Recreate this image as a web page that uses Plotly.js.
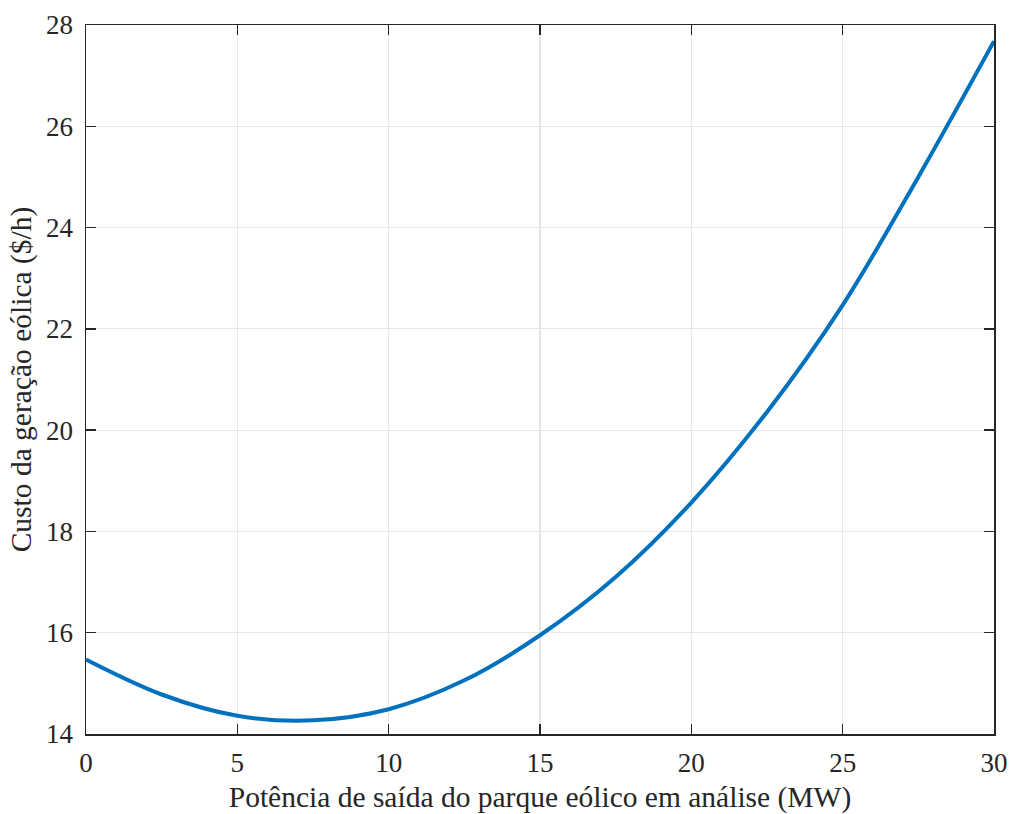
<!DOCTYPE html>
<html>
<head>
<meta charset="utf-8">
<script src="https://cdn.plot.ly/plotly-3.0.1.min.js"></script>
<style>html,body{margin:0;padding:0;background:#fff;}#chart{width:1009px;height:814px;}</style>
</head>
<body>
<div id="chart"></div>
<script>
const potencia = [0, 2.5, 5, 7.5, 10, 12.5, 15, 17.5, 20, 22.5, 25, 27.5, 30];
const custo = [15.47, 14.78, 14.36, 14.27, 14.49, 15.06, 15.95, 17.10, 18.57, 20.36, 22.47, 25.0, 27.68];
const xTicks = [0, 5, 10, 15, 20, 25, 30];
const yTicks = [14, 16, 18, 20, 22, 24, 26, 28];

const tickFont = {family: 'Liberation Serif, Times New Roman, serif', size: 27, color: '#262626'};
const titleFont = {family: 'Liberation Serif, Times New Roman, serif', size: 29.5, color: '#262626'};
const axisCommon = {
  showline: true, linecolor: '#262626', linewidth: 1.5, mirror: 'ticks',
  ticks: 'inside', ticklen: 10, tickwidth: 1.5, tickcolor: '#262626',
  showgrid: true, gridcolor: '#e6e6e6', gridwidth: 1.2, zeroline: false,
  tickfont: tickFont
};
Plotly.newPlot('chart', [{
  x: potencia, y: custo, type: 'scatter', mode: 'lines',
  line: {color: '#0072BD', width: 4, shape: 'spline', smoothing: 1}
}], {
  width: 1009, height: 814,
  margin: {l: 86, r: 15, t: 25, b: 80},
  paper_bgcolor: '#fff', plot_bgcolor: '#fff',
  showlegend: false,
  font: tickFont,
  xaxis: Object.assign({}, axisCommon, {
    range: [0, 30], tickvals: xTicks, ticktext: xTicks.map(String),
    ticklabelstandoff: 4,
    title: {text: 'Potência de saída do parque eólico em análise (MW)', font: titleFont, standoff: 10}
  }),
  yaxis: Object.assign({}, axisCommon, {
    range: [14, 28], tickvals: yTicks, ticktext: yTicks.map(String),
    ticklabelstandoff: 6,
    title: {text: 'Custo da geração eólica ($/h)', font: titleFont, standoff: 6}
  })
}, {displayModeBar: false, staticPlot: true});
</script>
</body>
</html>
